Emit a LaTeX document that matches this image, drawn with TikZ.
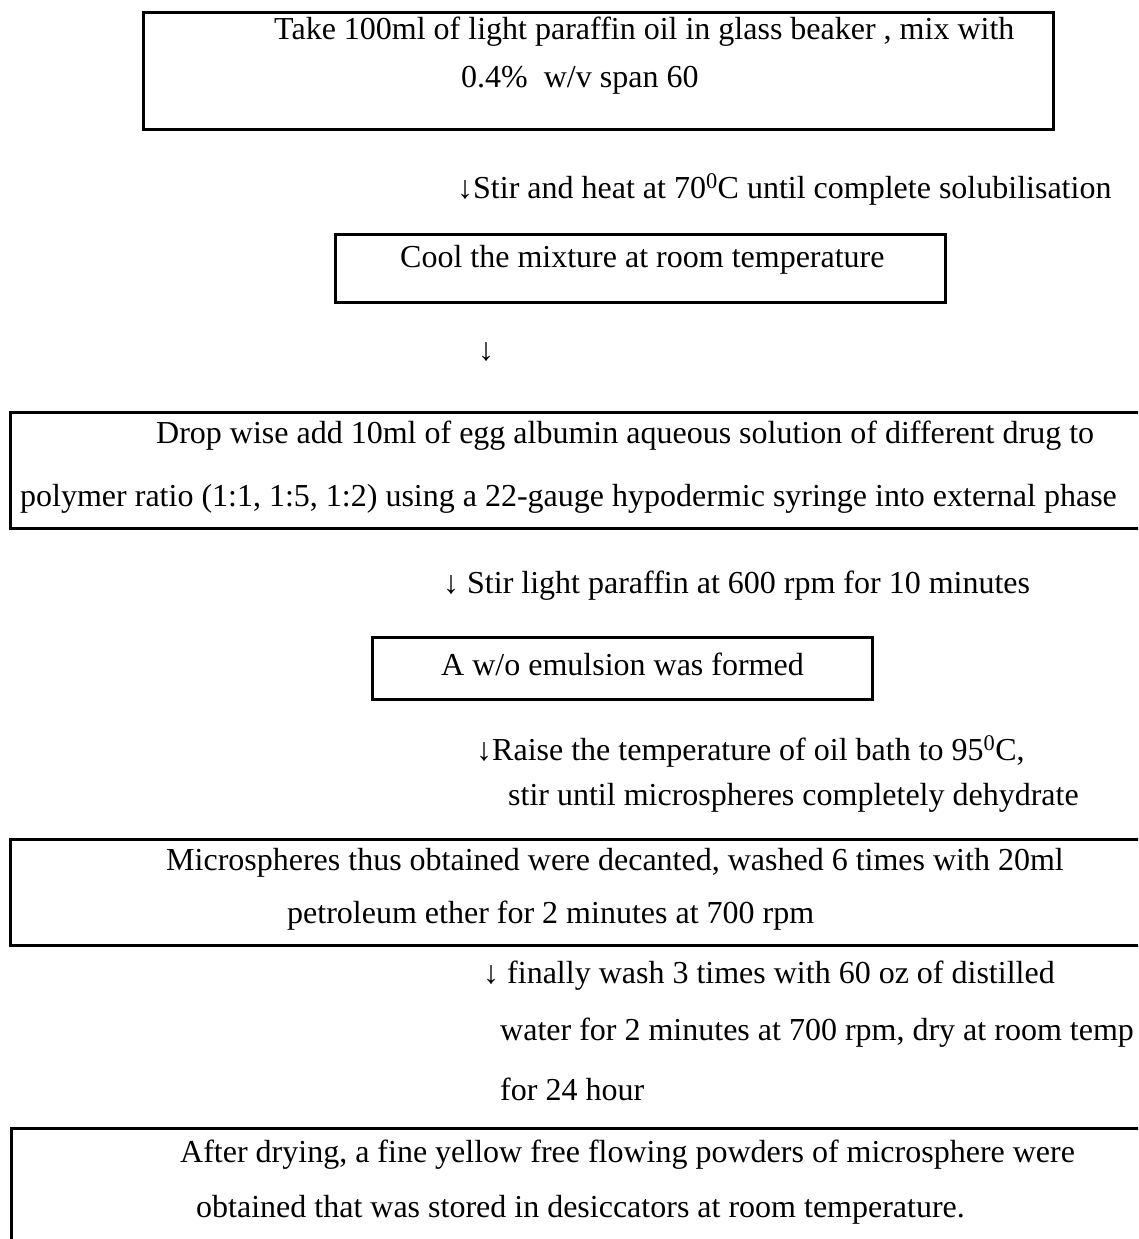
\documentclass[tikz,border=0pt]{standalone}
\usepackage{fontspec}
\setmainfont{Liberation Serif}
\begin{document}
\begin{tikzpicture}[x=1pt,y=-1pt,
  box/.style={draw=black, line width=3pt},
  txt/.style={anchor=base west, inner sep=0pt, font=\fontsize{32}{38}\selectfont}]
\useasboundingbox (0,0) rectangle (1138,1239);
\clip (0,0) rectangle (1138,1239);
\fill[white] (0,0) rectangle (1138,1239);

% process boxes
\draw[box] (143,13) rectangle (1053,129);
\draw[box] (335,234) rectangle (945,302);
\draw[box] (10,412) rectangle (1160,528);
\draw[box] (372,637) rectangle (872,699);
\draw[box] (10,839) rectangle (1160,945);
\draw[box] (11,1128) rectangle (1160,1260);

% step texts
\node[txt] (s1a) at (274,40) {Take 100ml of light paraffin oil in glass beaker , mix with};
\node[txt] (s1b) at (461,87) {0.4\%\ \ w/v span 60};
\node[txt] (a1) at (457,198) {↓Stir and heat at 70\textsuperscript{0}C until complete solubilisation};
\node[txt] (s2) at (400,267) {Cool the mixture at room temperature};
\node[txt] (a2) at (478,360) {↓};
\node[txt] (s3a) at (156,443) {Drop wise add 10ml of egg albumin aqueous solution of different drug to};
\node[txt] (s3b) at (20,506) {polymer ratio (1:1, 1:5, 1:2) using a 22-gauge hypodermic syringe into external phase};
\node[txt] (a3) at (443,593) {↓ Stir light paraffin at 600 rpm for 10 minutes};
\node[txt] (s4) at (441,675) {A w/o emulsion was formed};
\node[txt] (a4a) at (476,760) {↓Raise the temperature of oil bath to 95\textsuperscript{0}C,};
\node[txt] (a4b) at (508,805) {stir until microspheres completely dehydrate};
\node[txt] (s5a) at (166,870) {Microspheres thus obtained were decanted, washed 6 times with 20ml};
\node[txt] (s5b) at (287,923) {petroleum ether for 2 minutes at 700 rpm};
\node[txt] (a5a) at (483,983) {↓ finally wash 3 times with 60 oz of distilled};
\node[txt] (a5b) at (500,1040) {water for 2 minutes at 700 rpm, dry at room temp};
\node[txt] (a5c) at (500,1100) {for 24 hour};
\node[txt] (s6a) at (180,1162) {After drying, a fine yellow free flowing powders of microsphere were};
\node[txt] (s6b) at (196,1217) {obtained that was stored in desiccators at room temperature.};
\end{tikzpicture}
\end{document}
